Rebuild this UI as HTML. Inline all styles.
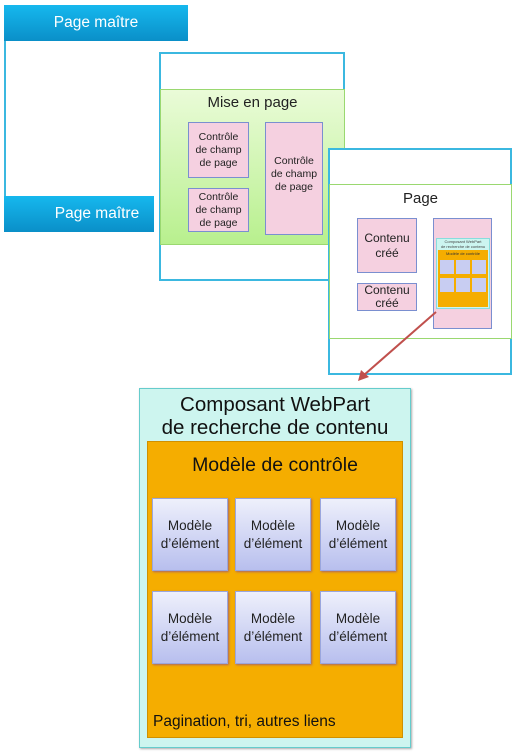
<!DOCTYPE html>
<html><head><meta charset="utf-8"><style>
body{margin:0;width:516px;height:756px;background:#fff;position:relative;overflow:hidden;font-family:"Liberation Sans","DejaVu Sans",sans-serif}
.a{position:absolute;box-sizing:border-box}
.c{display:flex;align-items:center;justify-content:center;text-align:center}
.bar{background:linear-gradient(#16b8ee,#0a8fc8);color:#fff;font-size:15.5px}
.pk{background:#f5d0e0;border:1px solid #7a8fd0;font-size:10.5px;line-height:13px;color:#222}
.it{background:linear-gradient(#eef0fb,#b8bfee);border:1px solid #9aa6dd;font-size:13.5px;line-height:18px;color:#222;box-shadow:1px 1px 2px #a66}
</style></head><body>
<div class="a" style="left:4px;top:5px;width:184px;height:227px;border-left:2px solid #3bb8e0"></div>
<div class="a bar c" style="left:4px;top:5px;width:184px;height:36px">Page maître</div>
<div class="a bar c" style="left:4px;top:196px;width:150px;height:36px;padding-left:36px">Page maître</div>

<div class="a" style="left:159px;top:52px;width:186px;height:229px;border:2px solid #3bb8e0;background:#fff"></div>
<div class="a" style="left:160px;top:89px;width:185px;height:156px;background:linear-gradient(#eafbd8,#b8f08e);border:1px solid #9ad870"></div>
<div class="a" style="left:160px;top:94px;width:185px;text-align:center;font-size:15px;color:#222">Mise en page</div>
<div class="a pk c" style="left:188px;top:122px;width:61px;height:56px">Contrôle<br>de champ<br>de page</div>
<div class="a pk c" style="left:188px;top:188px;width:61px;height:44px">Contrôle<br>de champ<br>de page</div>
<div class="a pk c" style="left:265px;top:122px;width:58px;height:113px;align-items:flex-start;padding-top:32px">Contrôle<br>de champ<br>de page</div>

<div class="a" style="left:328px;top:148px;width:184px;height:227px;border:2px solid #3bb8e0;background:#fff"></div>
<div class="a" style="left:329px;top:184px;width:183px;height:155px;background:#fff;border:1px solid #9ad870"></div>
<div class="a" style="left:329px;top:190px;width:183px;text-align:center;font-size:15px;color:#222">Page</div>
<div class="a pk c" style="left:357px;top:218px;width:60px;height:55px;font-size:12px;line-height:15px">Contenu<br>créé</div>
<div class="a pk c" style="left:357px;top:283px;width:60px;height:28px;font-size:12px;line-height:13px">Contenu<br>créé</div>
<div class="a pk" style="left:433px;top:218px;width:59px;height:111px"></div>
<div class="a" style="left:436px;top:238px;width:54px;height:71px;background:#ccf5f0;border:1px solid #8dd"></div>
<div class="a" style="left:436px;top:239px;width:54px;text-align:center;font-size:4px;line-height:5px;color:#444">Composant WebPart<br>de recherche de contenu</div>
<div class="a" style="left:438px;top:250px;width:50px;height:57px;background:#f5ad00"></div>
<div class="a" style="left:438px;top:251px;width:50px;text-align:center;font-size:4px;color:#333">Modèle de contrôle</div>
<div class="a" style="left:440px;top:260px;width:14px;height:14px;background:#c8cdf2"></div>
<div class="a" style="left:456px;top:260px;width:14px;height:14px;background:#c8cdf2"></div>
<div class="a" style="left:472px;top:260px;width:14px;height:14px;background:#c8cdf2"></div>
<div class="a" style="left:440px;top:278px;width:14px;height:14px;background:#c8cdf2"></div>
<div class="a" style="left:456px;top:278px;width:14px;height:14px;background:#c8cdf2"></div>
<div class="a" style="left:472px;top:278px;width:14px;height:14px;background:#c8cdf2"></div>

<svg class="a" style="left:0;top:0" width="516" height="756"><line x1="436" y1="312" x2="364" y2="375" stroke="#c0504d" stroke-width="2"/><polygon points="358,381 361,370 369,377" fill="#c0504d"/></svg>

<div class="a" style="left:139px;top:388px;width:272px;height:360px;background:#cdf5ef;border:1px solid #66cccc;box-shadow:1px 1px 2px #aaa"></div>
<div class="a" style="left:139px;top:393px;width:272px;text-align:center;font-size:20.5px;line-height:23px;color:#111">Composant WebPart<br>de recherche de contenu</div>
<div class="a" style="left:147px;top:441px;width:256px;height:297px;background:#f5ad00;border:1px solid #d09000"></div>
<div class="a" style="left:147px;top:454px;width:256px;text-align:center;font-size:19.5px;color:#111">Modèle de contrôle</div>
<div class="a it c" style="left:152px;top:498px;width:76px;height:73px">Modèle<br>d’élément</div>
<div class="a it c" style="left:235px;top:498px;width:76px;height:73px">Modèle<br>d’élément</div>
<div class="a it c" style="left:320px;top:498px;width:76px;height:73px">Modèle<br>d’élément</div>
<div class="a it c" style="left:152px;top:591px;width:76px;height:73px">Modèle<br>d’élément</div>
<div class="a it c" style="left:235px;top:591px;width:76px;height:73px">Modèle<br>d’élément</div>
<div class="a it c" style="left:320px;top:591px;width:76px;height:73px">Modèle<br>d’élément</div>
<div class="a" style="left:153px;top:713px;font-size:15.5px;color:#111">Pagination, tri, autres liens</div>
</body></html>
